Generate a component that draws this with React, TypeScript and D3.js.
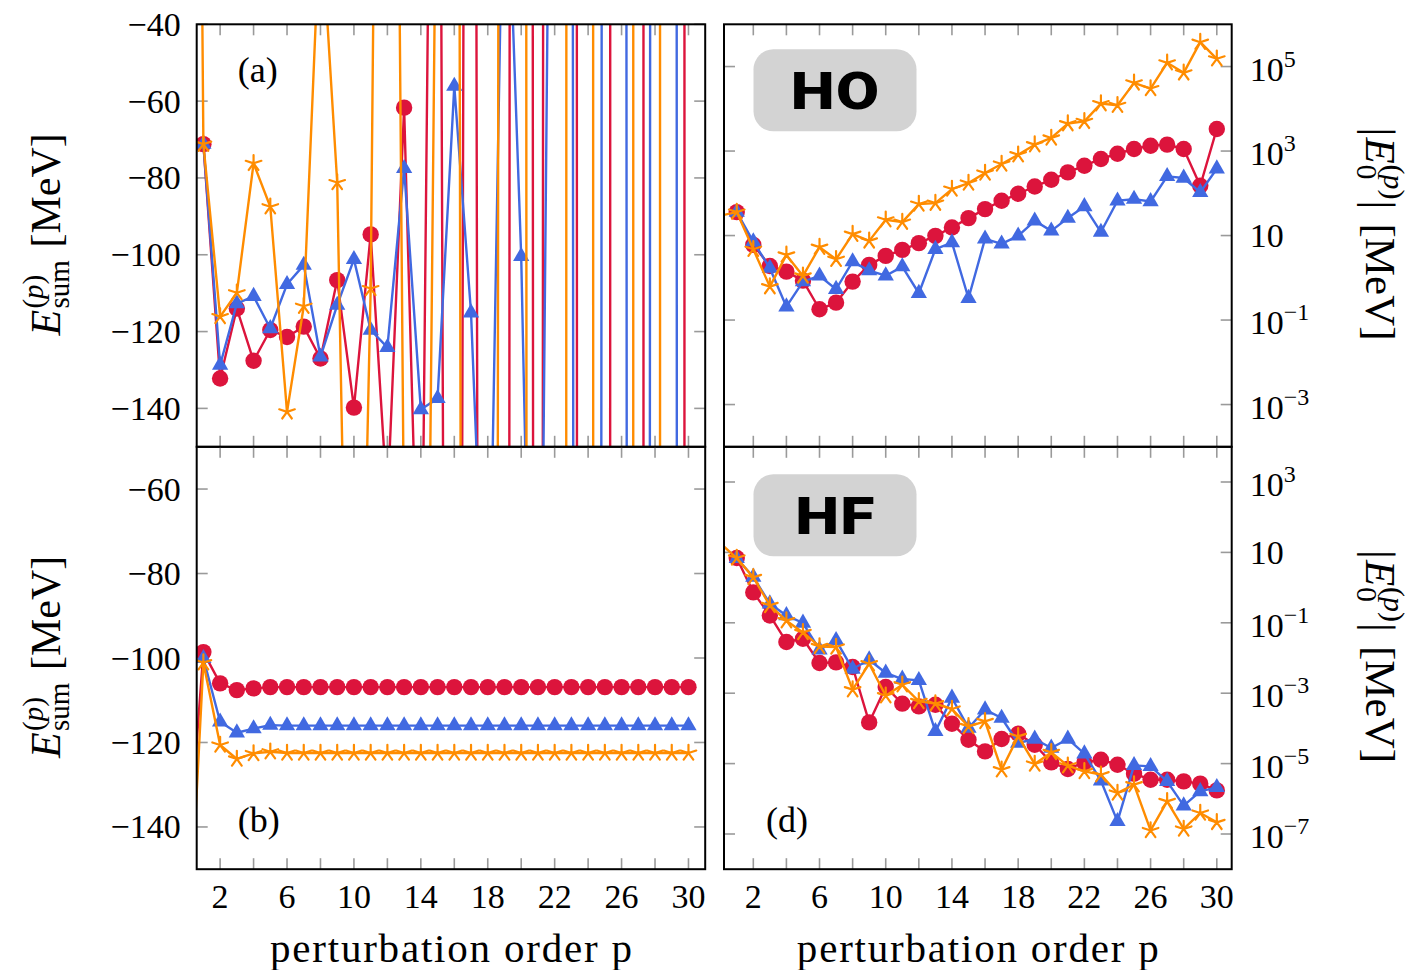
import React from "react";
import * as d3 from "d3";

// perturbation orders, index 0 is p = 0 (mostly outside the x range)
const orders = [0, 1, 2, 3, 4, 5, 6, 7, 8, 9, 10, 11, 12, 13, 14, 15, 16, 17, 18, 19, 20, 21, 22, 23, 24, 25, 26, 27, 28, 29, 30];
const xTicks = [2, 4, 6, 8, 10, 12, 14, 16, 18, 20, 22, 24, 26, 28, 30];
const xTickLabels = [2, 6, 10, 14, 18, 22, 26, 30];

// (a) HO basis, partial sums E_sum^(p) [MeV]
const hoSumRed = [null, -71.2, -132.2, -114, -127.6, -119.6, -121.4, -118.7, -127, -106.6, -139.8, -94.7, -165, -61.7, -219, 212, -900, 678, -1531, -2000, 4350, -2000, 4350, 6000, -12470, -15000, 31578, 40000, -89339, -100000, 31454];
const hoSumBlue = [null, -71.2, -128.7, -112.7, -110.8, -119.2, -107.7, -102.7, -126.6, -113.1, -101.2, -119.6, -124.1, -77.5, -140.3, -137.4, -56.1, -115.1, -224, 22.9, -100.4, -307, 164, 400, -4550, 1019, 2000, -4983, 2000, 5000, -12000];
const hoSumOrange = [445, -71.2, -116.1, -109.9, -76.2, -87.5, -140.9, -113.4, -10, -81.2, -310, -108.8, 350, -177, -400, 40, 600, -1400, -2500, 1400, 3000, -7000, -12000, 5100, 15000, -35000, -60000, 25700, 80000, -187000, -300000];

// (b) HF basis, partial sums E_sum^(p) [MeV]
const hfSumRed = [-152, -98.6, -106.0, -107.6, -107.2, -106.9, -106.9, -106.9, -106.9, -106.9, -106.9, -106.9, -106.9, -106.9, -106.9, -106.9, -106.9, -106.9, -106.9, -106.9, -106.9, -106.9, -106.9, -106.9, -106.9, -106.9, -106.9, -106.9, -106.9, -106.9, -106.9];
const hfSumBlue = [null, -100.1, -115.1, -117.7, -116.7, -115.9, -116.0, -116.0, -116.0, -116.0, -116.0, -116.0, -116.0, -116.0, -116.0, -116.0, -116.0, -116.0, -116.0, -116.0, -116.0, -116.0, -116.0, -116.0, -116.0, -116.0, -116.0, -116.0, -116.0, -116.0, -116.0];
const hfSumOrange = [-178, -101.1, -120.6, -123.9, -122.6, -122.2, -122.5, -122.5, -122.5, -122.5, -122.5, -122.5, -122.5, -122.5, -122.5, -122.5, -122.5, -122.5, -122.5, -122.5, -122.5, -122.5, -122.5, -122.5, -122.5, -122.5, -122.5, -122.5, -122.5, -122.5, -122.5];

// (c) HO basis, |E_0^(p)| [MeV]
const hoTermRed = [null, 35.9, 6.01, 1.91, 1.4, 0.857, 0.18, 0.258, 0.813, 2.02, 3.3, 4.58, 6.61, 9.84, 15.5, 25.9, 42.3, 66.5, 97.5, 145, 209, 312, 450, 649, 865, 1119, 1340, 1416, 1119, 151, 3334];
const hoTermBlue = [null, 35.9, 7.21, 1.69, 0.207, 0.813, 1.11, 0.536, 2.42, 1.48, 1.12, 1.84, 0.431, 4.75, 6.82, 0.328, 8.36, 6.35, 9.84, 22.3, 12.9, 25.9, 48.8, 12.1, 66.5, 72.9, 64.0, 251, 230, 105, 382];
const hoTermOrange = [29.5, 35.9, 4.75, 0.618, 3.48, 1.11, 5.31, 2.75, 10.8, 7.48, 23.6, 20.8, 55.6, 58.6, 126, 175, 302, 493, 820, 1416, 2042, 4457, 5047, 13274, 12106, 41115, 30130, 122462, 70958, 377572, 152405];

// (d) HF basis, |E_0^(p)| [MeV]
const hfTermRed = [null, 6.93, 0.731, 0.162, 0.0285, 0.0353, 7.21e-3, 7.5e-3, 5.55e-3, 1.48e-4, 1.5e-3, 5.04e-4, 4.22e-4, 4.71e-4, 1.36e-4, 4.78e-5, 2.22e-5, 5.01e-5, 7.08e-5, 3.44e-5, 1.08e-5, 7.03e-6, 1.08e-5, 1.29e-5, 9.31e-6, 5.16e-6, 3.49e-6, 3.49e-6, 3.12e-6, 2.69e-6, 1.73e-6];
const hfTermBlue = [null, 6.76, 2.0, 0.349, 0.162, 0.0986, 0.0172, 0.0316, 4.86e-3, 8.95e-3, 3.75e-3, 2.53e-3, 2.31e-3, 8.22e-5, 7.3e-4, 1.03e-4, 3.4e-4, 1.97e-4, 3.85e-5, 5.01e-5, 2.77e-5, 5.01e-5, 1.91e-5, 3.27e-6, 2.28e-7, 8.89e-6, 8.32e-6, 3.12e-6, 6.37e-7, 1.62e-6, 2.11e-6];
const hfTermOrange = [18.2, 6.92, 1.95, 0.312, 0.115, 0.0533, 0.0213, 0.0205, 1.26e-3, 6.89e-3, 8.49e-4, 1.74e-3, 5.85e-4, 5.04e-4, 3.56e-4, 1.14e-4, 1.58e-4, 6.71e-6, 5.93e-5, 9.75e-6, 2.08e-5, 8.71e-6, 6.0e-6, 4.84e-6, 1.46e-6, 2.52e-6, 1.26e-7, 8.43e-7, 1.39e-7, 3.95e-7, 2.14e-7];

const sumTicksTop = [-140, -120, -100, -80, -60, -40];
const sumTicksBottom = [-140, -120, -100, -80, -60];
const termTicksTop = [1e-3, 1e-1, 1e1, 1e3, 1e5];
const termTicksBottom = [1e-7, 1e-5, 1e-3, 1e-1, 1e1, 1e3];

const RED = "#dc143c";
const BLUE = "#4169e1";
const ORANGE = "#ff8c00";
const TICK = "#9a9a9a";
const SERIF = "'Liberation Serif', 'DejaVu Serif', serif";

type MarkKind = "circle" | "triangle" | "star";
type Series = { values: (number | null)[]; color: string; mark: MarkKind };

const LEFT: [number, number] = [196.7, 705.2];
const RIGHT: [number, number] = [724, 1231.7];
const TOP: [number, number] = [24.3, 446.8];
const BOTTOM: [number, number] = [446.8, 869.2];

function Mark({ kind, x, y, color }: { kind: MarkKind; x: number; y: number; color: string }) {
  if (kind === "circle") return <circle cx={x} cy={y} r={8.2} fill={color} />;
  if (kind === "triangle") {
    const r = 9.4;
    const pts = [[0, -r], [r * 0.866, r / 2], [-r * 0.866, r / 2]]
      .map(([dx, dy]) => `${x + dx},${y + dy}`)
      .join(" ");
    return <polygon points={pts} fill={color} />;
  }
  const r = 8.2;
  const d = [0, 1, 2, 3, 4]
    .map(i => {
      const a = -Math.PI / 2 + (i * 2 * Math.PI) / 5;
      return `M${x},${y}L${x + r * Math.cos(a)},${y + r * Math.sin(a)}`;
    })
    .join("");
  return <path d={d} stroke={color} strokeWidth={2.2} fill="none" strokeLinecap="round" />;
}

function LogLabel({ x, y, v }: { x: number; y: number; v: number }) {
  const e = Math.round(Math.log10(v));
  if (e === 1) {
    return (
      <text x={x} y={y + 11.5} fontSize={34}>10</text>
    );
  }
  return (
    <text x={x} y={y + 14} fontSize={34}>
      10
      <tspan dy={-14} fontSize={24}>{e < 0 ? `\u2212${-e}` : `${e}`}</tspan>
    </text>
  );
}

type PanelProps = {
  id: string;
  xr: [number, number];
  yr: [number, number];
  xDomain: [number, number];
  yDomain: [number, number];
  log?: boolean;
  series: Series[];
  yTicks: number[];
  labelSide: "left" | "right";
  showXLabels: boolean;
};

function Panel(p: PanelProps) {
  const [x0, x1] = p.xr;
  const [y0, y1] = p.yr;
  const x = d3.scaleLinear().domain(p.xDomain).range(p.xr);
  const y = p.log
    ? d3.scaleLog().domain(p.yDomain).range([y1, y0])
    : d3.scaleLinear().domain(p.yDomain).range([y1, y0]);
  const tl = 11;
  const line = d3
    .line<number | null>()
    .defined(v => v != null)
    .x((_, i) => x(orders[i]))
    .y(v => y(v as number));

  return (
    <g>
      <defs>
        <clipPath id={`clip-${p.id}`}>
          <rect x={x0} y={y0} width={x1 - x0} height={y1 - y0} />
        </clipPath>
      </defs>
      <g stroke={TICK} strokeWidth={1.6}>
        {xTicks.map(t => (
          <g key={`x${t}`}>
            <line x1={x(t)} x2={x(t)} y1={y1} y2={y1 - tl} />
            <line x1={x(t)} x2={x(t)} y1={y0} y2={y0 + tl} />
          </g>
        ))}
        {p.yTicks.map(t => (
          <g key={`y${t}`}>
            <line x1={x0} x2={x0 + tl} y1={y(t)} y2={y(t)} />
            <line x1={x1} x2={x1 - tl} y1={y(t)} y2={y(t)} />
          </g>
        ))}
      </g>
      <g clipPath={`url(#clip-${p.id})`}>
        {p.series.map((s, si) => (
          <g key={si}>
            <path d={line(s.values) || ""} fill="none" stroke={s.color} strokeWidth={2.4} strokeLinejoin="round" />
            {s.values.map((v, i) =>
              v == null || orders[i] < 1 ? null : (
                <Mark key={i} kind={s.mark} x={x(orders[i])} y={y(v)} color={s.color} />
              )
            )}
          </g>
        ))}
      </g>
      <rect x={x0} y={y0} width={x1 - x0} height={y1 - y0} fill="none" stroke="#000" strokeWidth={2} />
      {p.labelSide === "left"
        ? p.yTicks.map(t => (
            <text key={`l${t}`} x={x0 - 16} y={y(t) + 11.5} fontSize={34} textAnchor="end">
              {`\u2212${Math.abs(t)}`}
            </text>
          ))
        : p.yTicks.map(t => <LogLabel key={`l${t}`} x={x1 + 18} y={y(t)} v={t} />)}
      {p.showXLabels &&
        xTickLabels.map(t => (
          <text key={`xl${t}`} x={x(t)} y={y1 + 39} fontSize={34} textAnchor="middle">
            {t}
          </text>
        ))}
      {p.showXLabels && (
        <text x={(x0 + x1) / 2} y={962} fontSize={41} textAnchor="middle" textLength={362} lengthAdjust="spacing">
          perturbation order p
        </text>
      )}
    </g>
  );
}

function SumLabel({ cx, cy }: { cx: number; cy: number }) {
  const s = -100;
  return (
    <g transform={`translate(${cx},${cy}) rotate(-90)`} fontSize={42}>
      <text x={s} y={0} fontStyle="italic">E</text>
      <text x={s + 27} y={-17} fontSize={29}>
        (<tspan fontStyle="italic">p</tspan>)
      </text>
      <text x={s + 27} y={9} fontSize={29}>sum</text>
      <text x={s + 88} y={0}>[MeV]</text>
    </g>
  );
}

function TermLabel({ cx, cy }: { cx: number; cy: number }) {
  const s = -108;
  return (
    <g transform={`translate(${cx},${cy}) rotate(90)`} fontSize={43}>
      <text x={s} y={0}>|</text>
      <text x={s + 10} y={0} fontStyle="italic">E</text>
      <text x={s + 37} y={-18} fontSize={30}>
        (<tspan fontStyle="italic">p</tspan>)
      </text>
      <text x={s + 37} y={9} fontSize={30}>0</text>
      <text x={s + 73} y={0}>|</text>
      <text x={s + 96} y={0}>[MeV]</text>
    </g>
  );
}

function BasisTag({ x, y, label }: { x: number; y: number; label: string }) {
  const cx = x + 82;
  return (
    <g>
      <rect x={x} y={y} width={163} height={82} rx={20} fill="#d3d3d3" />
      <g transform={`translate(${cx},${y + 60}) scale(1.2,1)`}>
        <text
          x={0}
          y={0}
          textAnchor="middle"
          fontFamily="Roboto, 'Liberation Sans', sans-serif"
          fontWeight={900}
          fontSize={52}
          letterSpacing={1}
        >
          {label}
        </text>
      </g>
    </g>
  );
}

export default function App() {
  const leftDomain: [number, number] = [0.6, 31];
  const rightDomain: [number, number] = [0.23, 30.9];
  return (
    <div style={{ position: "absolute", left: 0, top: 0 }}>
      <svg width={1415} height={970} style={{ display: "block", background: "#fff" }} fontFamily={SERIF}>
        <Panel
          id="a"
          xr={LEFT}
          yr={TOP}
          xDomain={leftDomain}
          yDomain={[-150, -40]}
          series={[
            { values: hoSumRed, color: RED, mark: "circle" },
            { values: hoSumBlue, color: BLUE, mark: "triangle" },
            { values: hoSumOrange, color: ORANGE, mark: "star" },
          ]}
          yTicks={sumTicksTop}
          labelSide="left"
          showXLabels={false}
        />
        <Panel
          id="b"
          xr={LEFT}
          yr={BOTTOM}
          xDomain={leftDomain}
          yDomain={[-150, -50]}
          series={[
            { values: hfSumRed, color: RED, mark: "circle" },
            { values: hfSumBlue, color: BLUE, mark: "triangle" },
            { values: hfSumOrange, color: ORANGE, mark: "star" },
          ]}
          yTicks={sumTicksBottom}
          labelSide="left"
          showXLabels={true}
        />
        <Panel
          id="c"
          xr={RIGHT}
          yr={TOP}
          xDomain={rightDomain}
          yDomain={[1e-4, 1e6]}
          log
          series={[
            { values: hoTermRed, color: RED, mark: "circle" },
            { values: hoTermBlue, color: BLUE, mark: "triangle" },
            { values: hoTermOrange, color: ORANGE, mark: "star" },
          ]}
          yTicks={termTicksTop}
          labelSide="right"
          showXLabels={false}
        />
        <Panel
          id="d"
          xr={RIGHT}
          yr={BOTTOM}
          xDomain={rightDomain}
          yDomain={[1e-8, 1e4]}
          log
          series={[
            { values: hfTermRed, color: RED, mark: "circle" },
            { values: hfTermBlue, color: BLUE, mark: "triangle" },
            { values: hfTermOrange, color: ORANGE, mark: "star" },
          ]}
          yTicks={termTicksBottom}
          labelSide="right"
          showXLabels={true}
        />

        <text x={LEFT[0] + 61} y={TOP[0] + 58} fontSize={36} textAnchor="middle">(a)</text>
        <text x={LEFT[0] + 62} y={BOTTOM[1] - 37} fontSize={36} textAnchor="middle">(b)</text>
        <text x={RIGHT[0] + 63} y={BOTTOM[1] - 37} fontSize={36} textAnchor="middle">(d)</text>

        <BasisTag x={RIGHT[0] + 29.5} y={TOP[0] + 25} label="HO" />
        <BasisTag x={RIGHT[0] + 29.5} y={BOTTOM[0] + 27.5} label="HF" />

        <SumLabel cx={60} cy={(TOP[0] + TOP[1]) / 2} />
        <SumLabel cx={60} cy={(BOTTOM[0] + BOTTOM[1]) / 2} />
        <TermLabel cx={1366} cy={(TOP[0] + TOP[1]) / 2} />
        <TermLabel cx={1366} cy={(BOTTOM[0] + BOTTOM[1]) / 2} />
      </svg>
    </div>
  );
}
